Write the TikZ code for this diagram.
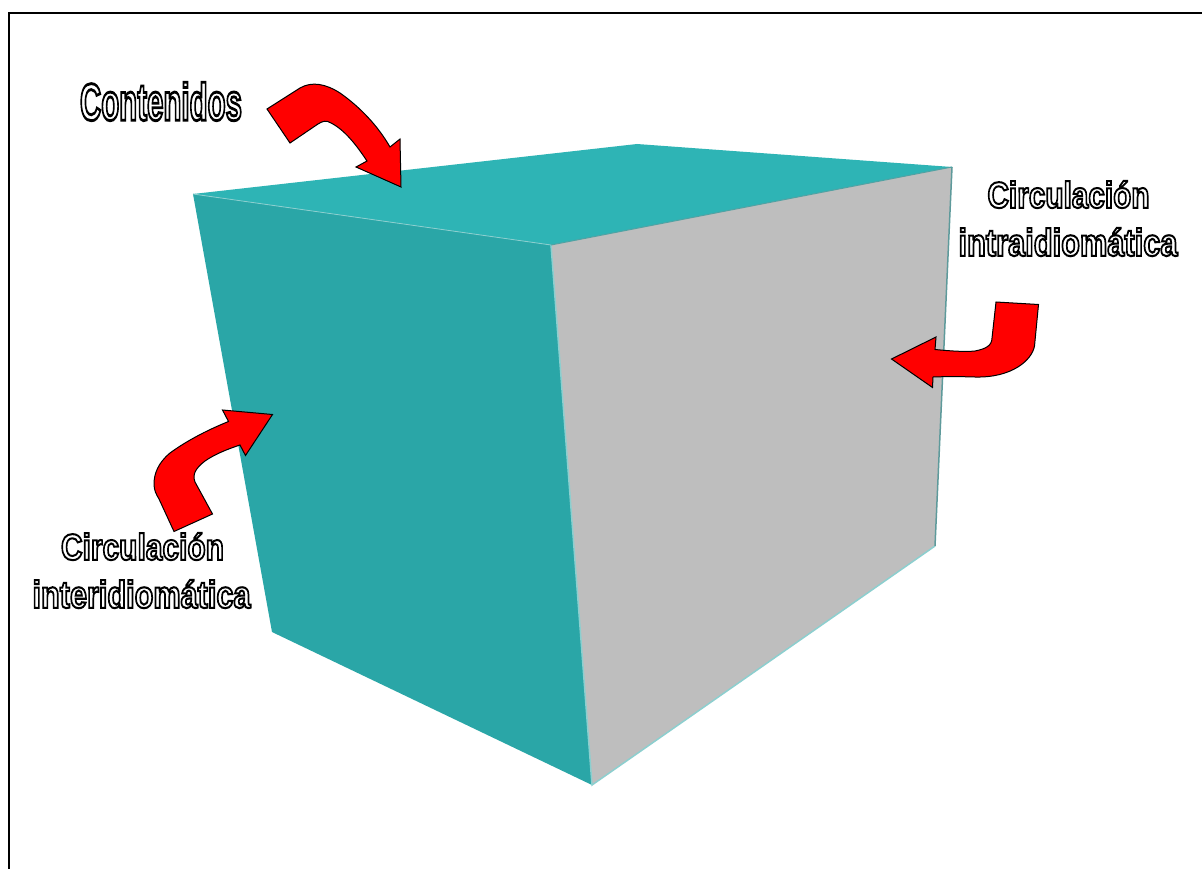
\documentclass[tikz,border=0pt]{standalone}
\usepackage{fontspec}
\setmainfont{Liberation Sans}[BoldFont={Liberation Sans Bold}]
\definecolor{topface}{HTML}{2EB4B5}
\definecolor{leftface}{HTML}{2AA6A7}
\definecolor{rightface}{HTML}{BEBEBE}
\definecolor{edgelight}{HTML}{8CCFCF}
\definecolor{edgedark}{HTML}{5E9A9B}
\newcommand{\outlinetext}[3]{\resizebox{#1pt}{#2pt}{\special{pdf:code q 2 Tr 0.55 w 0 0 0 RG 1 1 1 rg}\bfseries #3\special{pdf:code Q}}}
\tikzset{
  bigarrow/.style={fill=red,draw=black,line width=1pt,line join=miter},
  label text/.style={inner sep=0pt,outer sep=0pt,anchor=center},
}
\begin{document}
\begin{tikzpicture}[x=1pt,y=-1pt]
\useasboundingbox (0,0) rectangle (1202,869);
\fill[white] (0,0) rectangle (1202,869);
\draw[black,line width=2pt] (9,869) -- (9,13.5) -- (1202,13.5);
% cube
\fill[topface] (193,194) -- (637,144) -- (952,167) -- (551,245) -- cycle;
\fill[leftface] (193,194) -- (551,245) -- (592,785) -- (272,632) -- cycle;
\fill[rightface] (551,245) -- (952,167) -- (935,546) -- (592,785) -- cycle;
\draw[edgelight,line width=.8pt] (193,194) -- (551,245);
\draw[edgelight,line width=1.5pt] (551,245) -- (592,785) -- (935,546);
\draw[edgedark,line width=1.5pt] (952,167) -- (935,546);
\draw[edgedark!70!topface,line width=1pt] (551,245) -- (952,167);
% arrows
\draw[bigarrow] (267,109) -- (300,88) .. controls (312,81) and (326,84) .. (340,93)
  .. controls (360,107) and (378,126) .. (390,147) -- (400,139) -- (401,187) -- (356,167) -- (367,161)
  .. controls (357,146) and (345,130) .. (331,123) .. controls (326,120) and (323,121) .. (318,124) -- (290,143) -- cycle;
\draw[bigarrow] (996,302) -- (1038.5,304.5) -- (1034.5,346) .. controls (1032,360) and (1012,378) .. (975,377)
  .. controls (960,376.5) and (945,376.5) .. (933,377) -- (932.5,387.5) -- (891.5,359) -- (936,337) -- (935,349.5)
  .. controls (950,351) and (965,352) .. (975,351) .. controls (985,349) and (992,346) .. (992,338) -- cycle;
\draw[bigarrow] (174,531.5) -- (212.5,514) -- (195,482) .. controls (192,474) and (196,468) .. (205,461)
  .. controls (215,454) and (228,449) .. (240,445) -- (245.5,455.5) -- (272.5,414.5) -- (222.5,410) -- (228.5,421.5)
  .. controls (205,431) and (185,442) .. (170,453) .. controls (158,463) and (154,474) .. (154,484)
  .. controls (154,490) and (156,494) .. (159,499) -- cycle;
% labels
\node[label text] (contenidos) at (161,101.5) {\outlinetext{162}{38}{Contenidos}};
\node[label text] (intraA) at (1068.5,194.5) {\outlinetext{162}{27}{Circulación}};
\node[label text] (intraB) at (1068,242) {\outlinetext{219}{28}{intraidiomática}};
\node[label text] (interA) at (142.5,546.5) {\outlinetext{163}{27}{Circulación}};
\node[label text] (interB) at (141.5,594) {\outlinetext{218}{28}{interidiomática}};
\end{tikzpicture}
\end{document}
